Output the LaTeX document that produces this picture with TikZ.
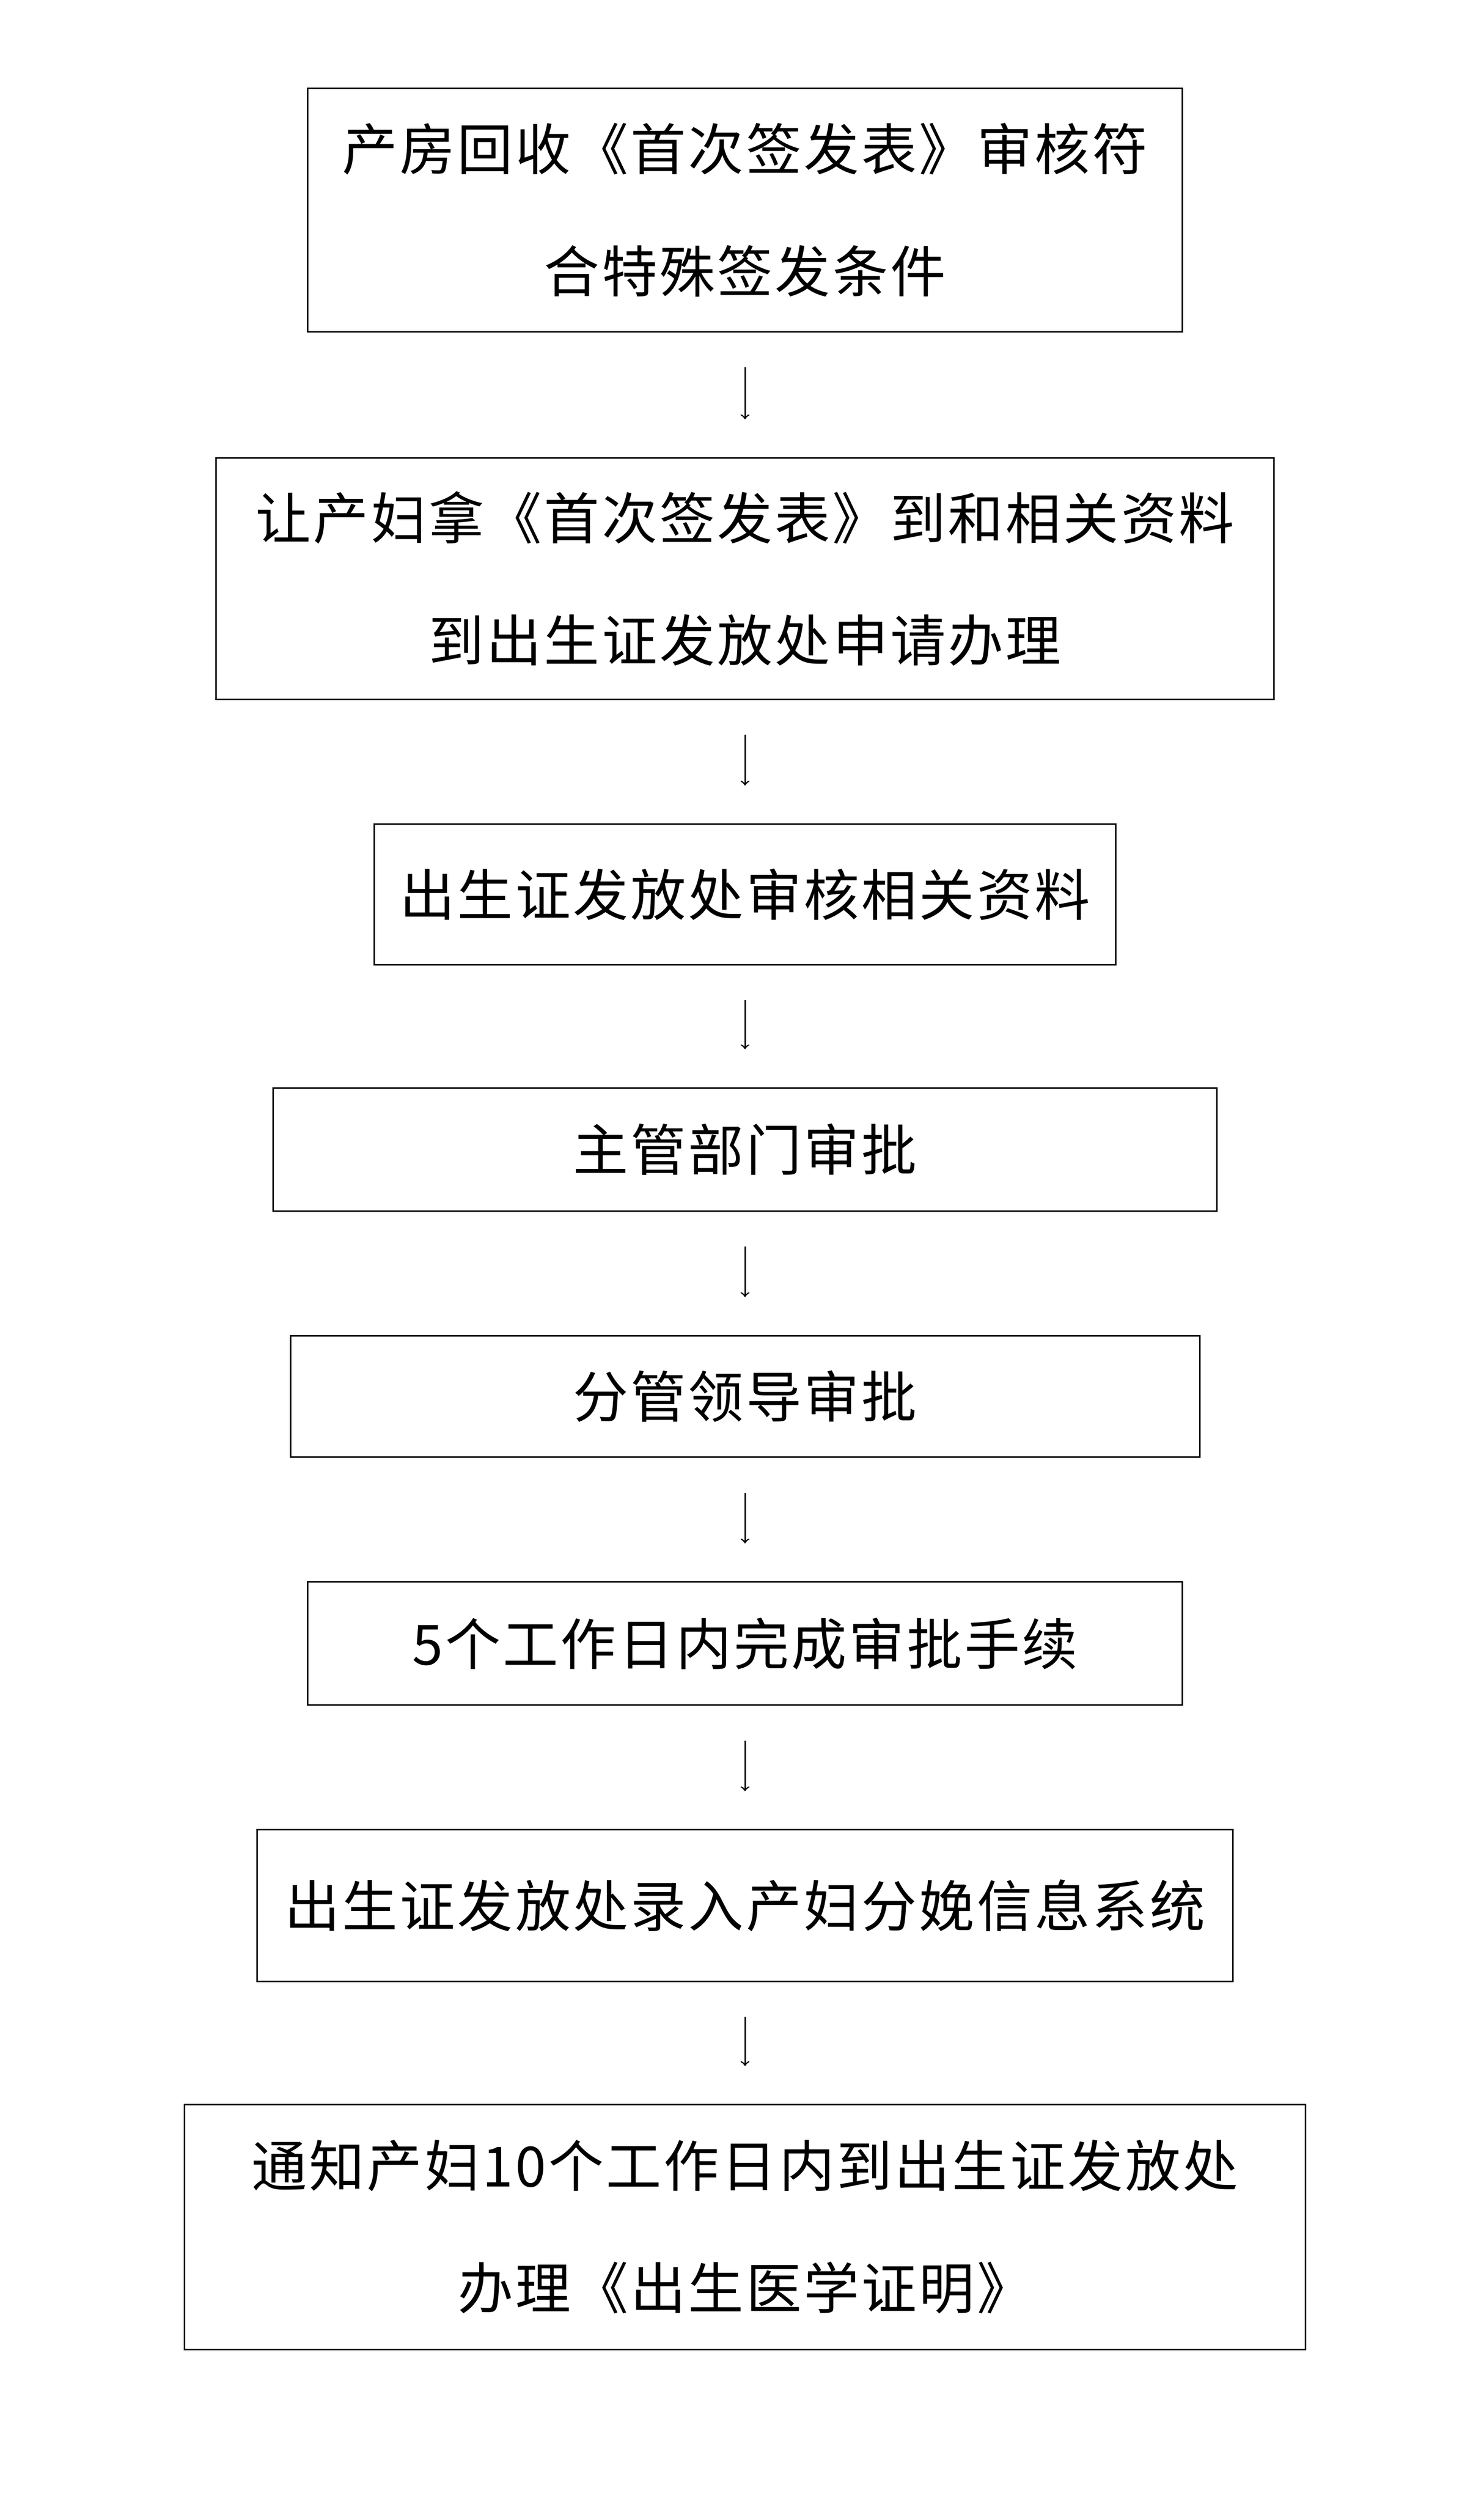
\documentclass[tikz,border=0pt]{standalone}
\usepackage{fontspec}
\newfontfamily\cjk[LetterSpace=4]{Noto Sans CJK SC}
\begin{document}
\begin{tikzpicture}[x=0.03cm,y=-0.03cm,
    stepbox/.style={draw,line width=0.8pt,inner sep=0pt,align=center,
        font=\cjk\fontsize{30}{66}\selectfont},
    flow/.style={->,line width=0.8pt,shorten <=0.66cm,shorten >=0.72cm}]
        \useasboundingbox (0,0) rectangle (940,1586);
        % boxes
        \node[stepbox,minimum width=16.62cm,minimum height=4.62cm] (recv) at (472,133)
            {产房回收《首次签发表》审核符\\合特殊签发条件};
        \node[stepbox,minimum width=20.1cm,minimum height=4.59cm] (apply) at (472,366.5)
            {让产妇拿《首次签发表》到和相关资料\\到出生证发放处申请办理};
        \node[stepbox,minimum width=14.1cm,minimum height=2.67cm] (check) at (472,566.5)
            {出生证发放处审核相关资料};
        \node[stepbox,minimum width=17.94cm,minimum height=2.34cm] (dept) at (472,728)
            {主管部门审批};
        \node[stepbox,minimum width=17.28cm,minimum height=2.31cm] (lead) at (472,884.5)
            {分管领导审批};
        \node[stepbox,minimum width=16.62cm,minimum height=2.34cm] (days) at (472,1041)
            {5个工作日内完成审批手续};
        \node[stepbox,minimum width=18.54cm,minimum height=2.88cm] (input) at (472,1207)
            {出生证发放处录入产妇分娩信息系统};
        \node[stepbox,minimum width=21.3cm,minimum height=4.65cm] (notify) at (472,1410.5)
            {通知产妇10个工作日内到出生证发放处\\办理《出生医学证明》};
        % arrows
        \draw[flow] (recv) -- (apply);
        \draw[flow] (apply) -- (check);
        \draw[flow] (check) -- (dept);
        \draw[flow] (dept) -- (lead);
        \draw[flow] (lead) -- (days);
        \draw[flow] (days) -- (input);
        \draw[flow] (input) -- (notify);
\end{tikzpicture}
\end{document}
